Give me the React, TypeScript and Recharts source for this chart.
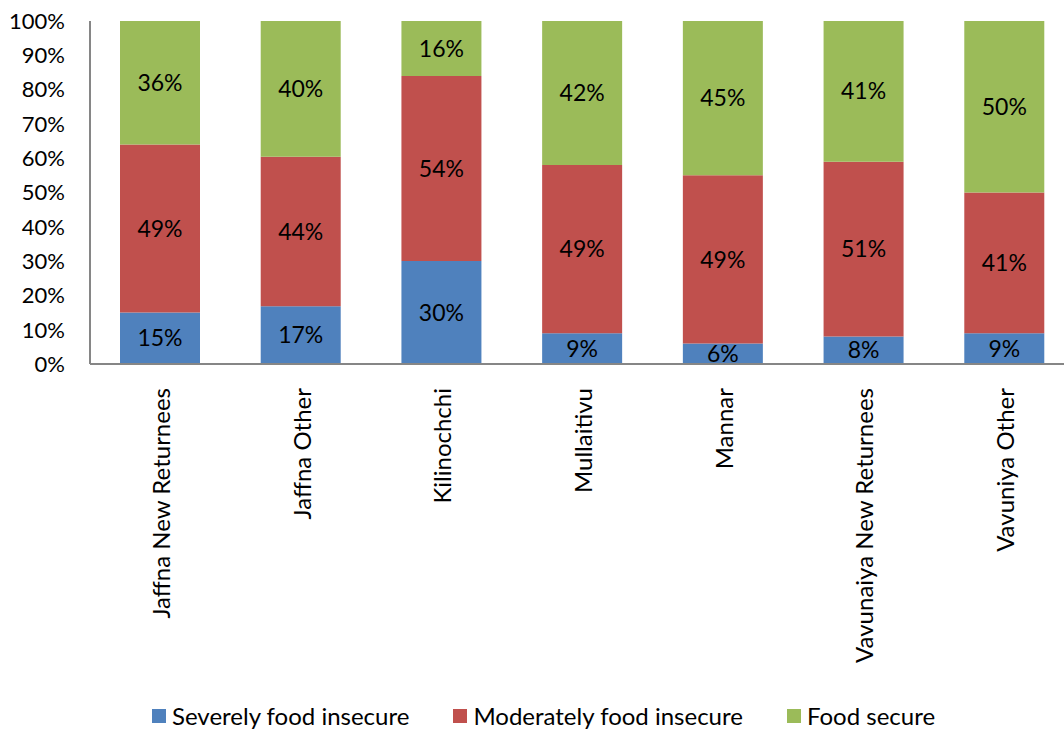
import React from 'react';
import { BarChart, Bar, XAxis, YAxis, Legend, LabelList } from 'recharts';

const categories = ['Jaffna New Returnees', 'Jaffna Other', 'Kilinochchi', 'Mullaitivu', 'Mannar', 'Vavunaiya New Returnees', 'Vavuniya Other'];
const severe = [15, 17, 30, 9, 6, 8, 9];
const moderate = [49, 44, 54, 49, 49, 51, 41];
const secure = [36, 40, 16, 42, 45, 41, 50];
const yTicks = [0, 0.1, 0.2, 0.3, 0.4, 0.5, 0.6, 0.7, 0.8, 0.9, 1];

const seriesInfo = [
  { key: 'severe', name: 'Severely food insecure', color: '#4F81BD' },
  { key: 'moderate', name: 'Moderately food insecure', color: '#C0504D' },
  { key: 'secure', name: 'Food secure', color: '#9BBB59' },
];

const data = categories.map((name, i) => ({ name, severe: severe[i], moderate: moderate[i], secure: secure[i] }));

const FONT = 'Lato, "Noto Sans", sans-serif';

const XTick = (props: any) => {
  const { x, y, payload } = props;
  const ty = y + 24;
  return (
    <text x={x} y={ty} transform={`rotate(-90, ${x}, ${ty})`} textAnchor="end" dominantBaseline="central"
      fontFamily={FONT} fontSize={24} fill="#000">{payload.value}</text>
  );
};

const LegendContent = () => (
  <div style={{ display: 'flex', paddingLeft: 152, paddingTop: 14, fontFamily: FONT, fontSize: 24, color: '#000', lineHeight: '26px' }}>
    {seriesInfo.map((s) => (
      <div key={s.key} style={{ display: 'flex', alignItems: 'center', marginRight: 44 }}>
        <span style={{ width: 14, height: 14, background: s.color, display: 'inline-block', marginRight: 6 }} />
        <span>{s.name}</span>
      </div>
    ))}
  </div>
);

export default function App() {
  return (
    <div style={{ position: 'absolute', left: 0, top: 0, width: 1064, height: 729, overflow: 'hidden', background: '#fff' }}>
      <BarChart width={1090} height={729} data={data} stackOffset="expand" barSize={80}
        margin={{ top: 21, right: 15, left: 0, bottom: 0 }}>
        <YAxis domain={[0, 1]} ticks={yTicks} width={90} tickLine={false} tickSize={0} tickMargin={25}
          axisLine={{ stroke: '#868686', strokeWidth: 2 }}
          tickFormatter={(v: number) => `${Math.round(v * 100)}%`}
          tick={{ fontFamily: FONT, fontSize: 22, fill: '#000' }} />
        <XAxis dataKey="name" height={325} interval={0} tickLine={false} tickSize={0} tickMargin={0}
          axisLine={{ stroke: '#868686', strokeWidth: 2 }} tick={<XTick />} />
        <Legend verticalAlign="bottom" height={40} content={<LegendContent />} />
        {seriesInfo.map((s) => (
          <Bar key={s.key} dataKey={s.key} name={s.name} stackId="a" fill={s.color} isAnimationActive={false}>
            <LabelList dataKey={s.key} position="center" formatter={(v: any) => `${v}%`}
              style={{ fontFamily: FONT, fontSize: 23, fill: '#000' }} />
          </Bar>
        ))}
      </BarChart>
    </div>
  );
}
